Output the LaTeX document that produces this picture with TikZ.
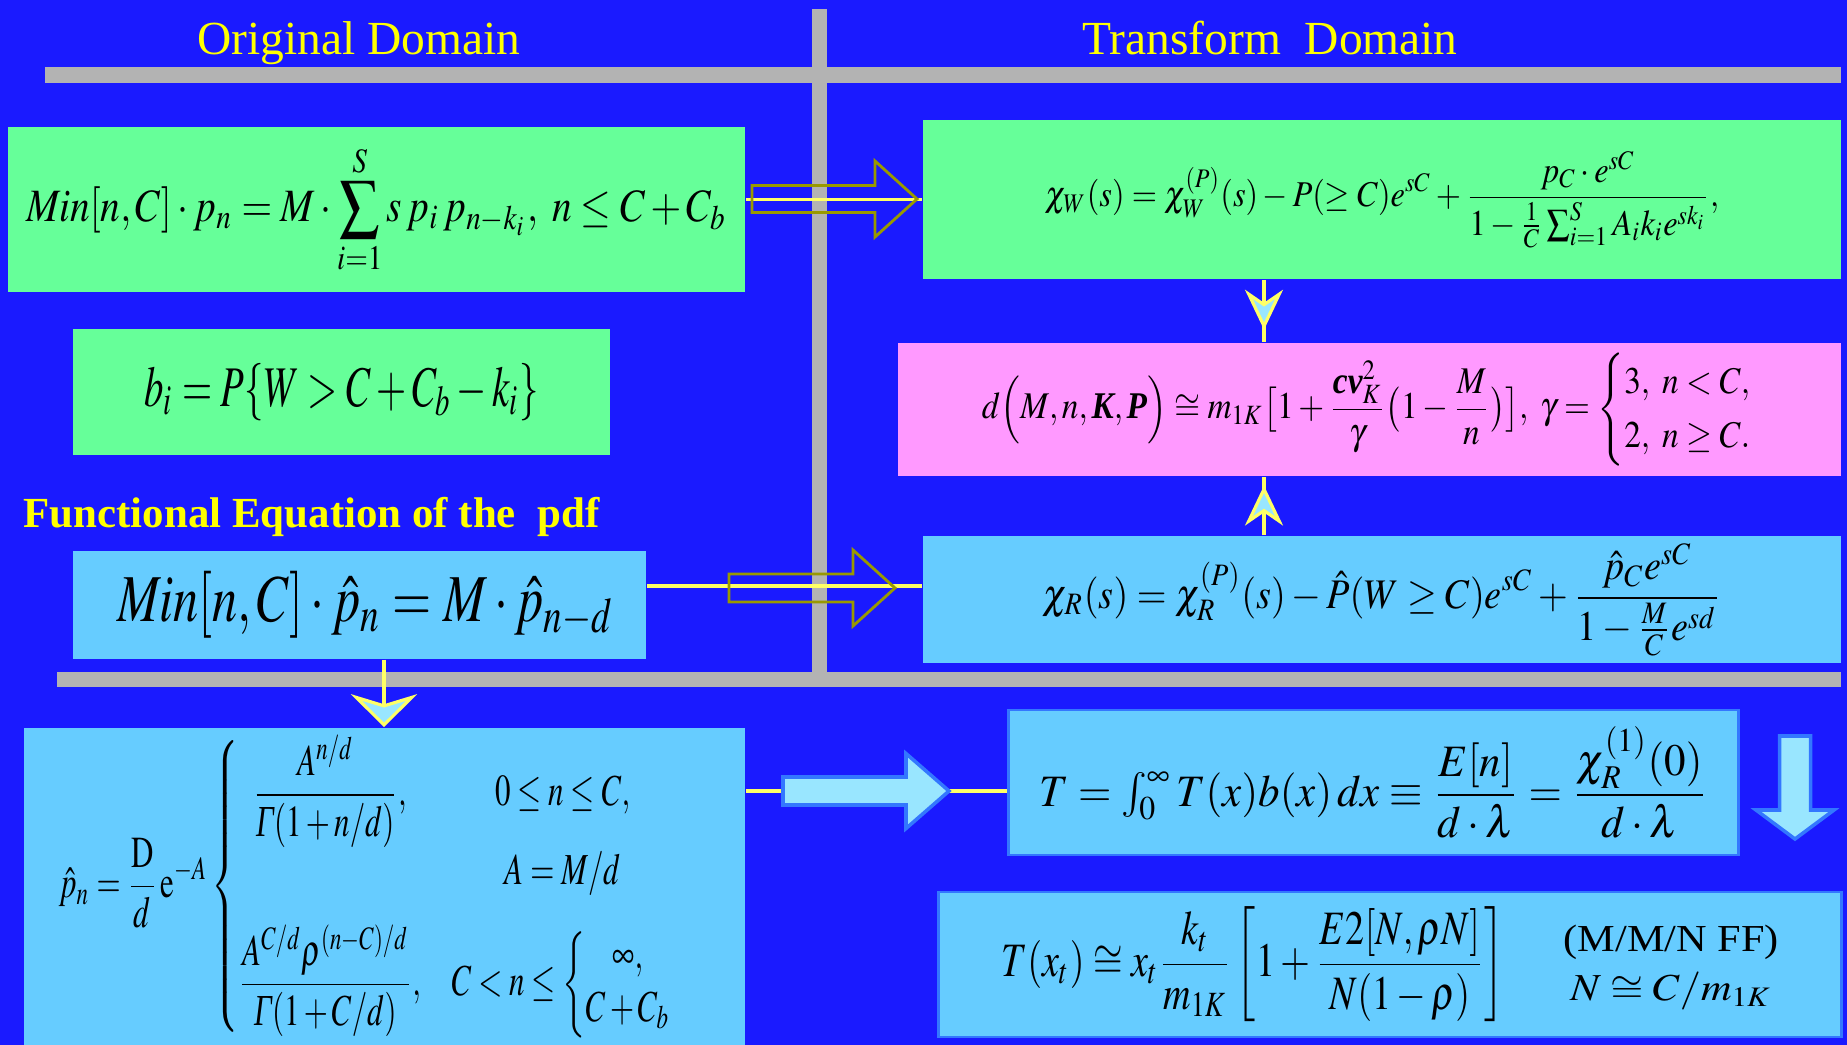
\documentclass[tikz,border=0pt]{standalone}
\usepackage{amsmath, amssymb}
\usepackage{mathptmx}
\usepackage[no-math]{fontspec}
\setmainfont{Liberation Serif}
\usepackage{graphicx}
\usepackage{xcolor}
\usetikzlibrary{arrows.meta, decorations.markings}

\definecolor{slideBlue}{RGB}{26,26,255}
\definecolor{boxGreen}{RGB}{102,255,153}
\definecolor{boxPink}{RGB}{255,153,255}
\definecolor{boxSky}{RGB}{102,204,255}
\definecolor{barGray}{RGB}{179,179,179}
\definecolor{arrowOlive}{RGB}{153,153,0}
\definecolor{linkYellow}{RGB}{255,255,102}
\definecolor{titleYellow}{RGB}{255,255,0}
\definecolor{tipCyan}{RGB}{153,230,255}
\definecolor{edgeBlue}{RGB}{51,119,255}

% formula squeezed into a measured box (width, total height in cm)
\newcommand{\fiteq}[3]{\resizebox*{#1cm}{#2cm}{$\displaystyle #3$}}
\newcommand{\boldit}[1]{\text{\bfseries\itshape #1}}
\newcommand{\itGamma}{\text{\itshape Γ}}

\begin{document}
\begin{tikzpicture}[
    x=0.01cm, y=-0.01cm,
    box/.style={rectangle, inner sep=0pt, align=center},
    greenbox/.style={box, fill=boxGreen},
    pinkbox/.style={box, fill=boxPink},
    skybox/.style={box, fill=boxSky},
    framed/.style={draw=edgeBlue, line width=0.8pt},
    heading/.style={text=titleYellow, font=\fontsize{13.5}{16}\selectfont, anchor=base},
    bar/.style={draw=barGray, line width=0.15cm},
    link/.style={draw=linkYellow, line width=0.9pt},
    hollow/.style={draw=arrowOlive, line width=0.8pt},
    fat/.style={fill=tipCyan, draw=edgeBlue, line width=1pt},
    cone/.tip={Stealth[length=0.4cm, width=0.38cm, inset=0.13cm, fill=tipCyan, color=linkYellow]},
    widecone/.tip={Stealth[length=0.33cm, width=0.66cm, inset=0.1cm, fill=tipCyan, color=linkYellow]},
    mid tip/.style={postaction={decorate, decoration={markings, mark=at position #1 with {\arrow{cone}}}}}
]

\fill[slideBlue] (0,0) rectangle (1847,1045);
\useasboundingbox (0,0) rectangle (1847,1045);

% domain separators
\draw[bar] (819.5,9) -- (819.5,679.5);
\draw[bar] (45,75) -- (1841,75);
\draw[bar] (57,679.5) -- (1841,679.5);

\node[heading] (orig) at (359,54) {Original Domain};
\node[heading] (trans) at (1270,54) {Transform\ \ Domain};
\node[heading, anchor=base west, inner sep=0pt, font=\bfseries\fontsize{12.2}{14}\selectfont] (feq) at (23,527) {Functional Equation of the\ \ pdf};

% original domain
\node[greenbox, minimum width=7.37cm, minimum height=1.65cm] (msum) at (376.5,209.5)
    {\fiteq{7.00}{1.30}{\mathit{Min}[n,C]\cdot p_n=M\cdot\sum_{i=1}^{S}s\,p_i\,p_{n-k_i},\ n\le C+C_b}};
\node[greenbox, minimum width=5.37cm, minimum height=1.26cm] (bprob) at (341.5,392)
    {\fiteq{3.94}{0.57}{b_i=P\{W>C+C_b-k_i\}}};
\node[skybox, minimum width=5.73cm, minimum height=1.08cm] (mhat) at (359.5,605)
    {\hspace{0.13cm}\fiteq{4.97}{0.67}{\mathit{Min}[n,C]\cdot\hat{p}_n=M\cdot\hat{p}_{n-d}}};
\node[skybox, minimum width=7.21cm, minimum height=3.17cm] (phat) at (384.5,886.5)
    {\fiteq{6.18}{3.02}{\hat{p}_n=\frac{\mathrm{D}}{d}\,\mathrm{e}^{-A}\left\{\begin{array}{@{}c@{\quad}c@{}}
        \dfrac{A^{n/d}}{\itGamma(1+n/d)}, & 0\le n\le C,\\[1.2ex]
         & A=M/d\\[1.2ex]
        \dfrac{A^{C/d}\rho^{(n-C)/d}}{\itGamma(1+C/d)}, & C<n\le\left\{\begin{array}{@{}c@{}}\infty,\\ C+C_b\end{array}\right.
      \end{array}\right.}\hspace{0.33cm}};

% transform domain
\node[greenbox, minimum width=9.18cm, minimum height=1.59cm] (chiw) at (1382,199.5)
    {\fiteq{6.74}{0.97}{\chi_W(s)=\chi_W^{(P)}(s)-P(\ge C)e^{sC}+\frac{p_C\cdot e^{sC}}{1-\frac{1}{C}\sum_{i=1}^{S}A_i k_i e^{sk_i}},}};
\node[pinkbox, minimum width=9.43cm, minimum height=1.33cm] (dmn) at (1369.5,409.5)
    {\hspace{0.3cm}\fiteq{8.05}{1.13}{d\Bigl(M,n,\boldit{K},\boldit{P}\Bigr)\cong m_{1K}\bigl[1+\frac{\boldit{cv}_K^2}{\gamma}\bigl(1-\frac{M}{n}\bigr)\bigr],\ \gamma=\begin{cases}3,\ n<C,\\ 2,\ n\ge C.\end{cases}}};
\node[skybox, minimum width=9.18cm, minimum height=1.27cm] (chir) at (1382,599.5)
    {\fiteq{6.78}{1.12}{\chi_R(s)=\chi_R^{(P)}(s)-\hat{P}(W\ge C)e^{sC}+\frac{\hat{p}_C e^{sC}}{1-\frac{M}{C}e^{sd}}}};
\node[skybox, framed, minimum width=7.29cm, minimum height=1.45cm] (tint) at (1373.5,782.5)
    {\fiteq{6.68}{1.11}{T=\textstyle\int_0^\infty\displaystyle T(x)b(x)\,dx\equiv\frac{E[n]}{d\cdot\lambda}=\frac{\chi_R^{(1)}(0)}{d\cdot\lambda}}};
\node[skybox, framed, minimum width=9.02cm, minimum height=1.45cm] (txt) at (1390,964.5)
    {\fiteq{5.03}{1.15}{T(x_t)\cong x_t\frac{k_t}{m_{1K}}\left[1+\frac{E2[N,\rho N]}{N(1-\rho)}\right]}\hspace{0.59cm}%
     \fiteq{2.15}{0.95}{\begin{array}{@{}c@{}}\text{(M/M/N FF)}\\[0.2ex] N\cong C/m_{1K}\end{array}}};

% connectors
\draw[link] (msum.east |- chiw.west) -- (chiw.west);
\draw[link] (mhat.east |- 0,586) -- (chir.west |- 0,586);
\draw[link] (phat.east |- 0,791) -- (tint.west |- 0,791);
\draw[link, mid tip=0.8] (chiw.south -| 1264,0) -- (dmn.north -| 1264,0);
\draw[link, mid tip=0.85] (chir.north -| 1264,0) -- (dmn.south -| 1264,0);
\draw[link, -{widecone}] (mhat.south -| 384,0) -- (phat.north -| 384,0);

% block arrows
\draw[hollow] (752,185.5) -- (875,185.5) -- (875,161) -- (917,199) -- (875,237) -- (875,212.5) -- (752,212.5) -- cycle;
\draw[hollow] (729,574) -- (853,574) -- (853,550) -- (895,588) -- (853,626) -- (853,602) -- (729,602) -- cycle;
\draw[fat] (783,777) -- (906,777) -- (906,753.5) -- (949,791) -- (906,828.5) -- (906,805) -- (783,805) -- cycle;
\draw[fat] (1779.5,736) -- (1810.5,736) -- (1810.5,810) -- (1834,810) -- (1795,839) -- (1756,810) -- (1779.5,810) -- cycle;

\end{tikzpicture}
\end{document}
